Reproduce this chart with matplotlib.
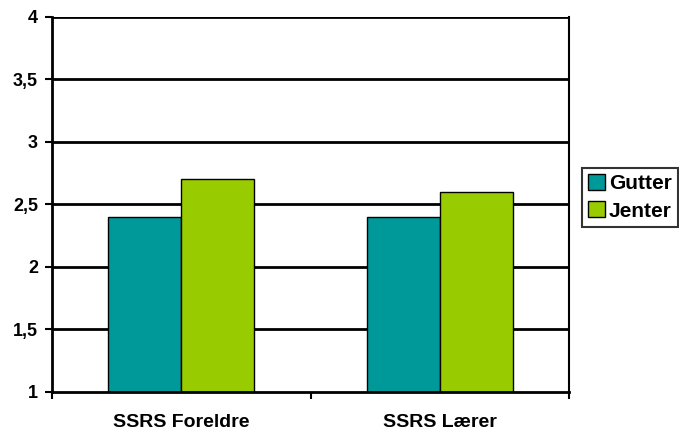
import numpy as np
import matplotlib.pyplot as plt

plt.rcParams['font.family'] = ['Liberation Sans', 'DejaVu Sans']

## the data
categories = ['SSRS Foreldre', 'SSRS Lærer']
gutter = [2.4, 2.4]
jenter = [2.7, 2.6]
yticks = [1, 1.5, 2, 2.5, 3, 3.5, 4]
ytick_labels = ['1', '1,5', '2', '2,5', '3', '3,5', '4']

fig = plt.figure(figsize=(6.79, 4.30), dpi=100)
ax = fig.add_axes([0.0766, 0.0884, 0.7614, 0.8721])

ind = np.arange(len(categories))
width = 0.283

# gridlines behind bars
for y in yticks[1:]:
    ax.axhline(y, color='black', lw=2, zorder=0)

b1 = ax.bar(ind - width / 2, gutter, width,
            color='#009999', edgecolor='black', lw=1, zorder=2)
b2 = ax.bar(ind + width / 2, jenter, width,
            color='#99CC00', edgecolor='black', lw=1, zorder=2)

ax.set_xlim(-0.5, 1.5)
ax.set_ylim(1, 4)
ax.set_yticks(yticks)
ax.set_yticklabels(ytick_labels, fontsize=13, fontweight='bold')
ax.set_xticks([-0.5, 0.5, 1.5])
ax.set_xticklabels(['', '', ''])
ax.set_xticks(ind, minor=True)
ax.set_xticklabels(categories, minor=True, fontsize=14, fontweight='bold')
ax.tick_params(axis='x', which='minor', length=0, pad=16)
ax.tick_params(axis='x', which='major', length=5, width=1.5, direction='out')
ax.tick_params(axis='y', length=5, width=1.5, direction='out', pad=5)

ax.spines['left'].set_linewidth(2)
ax.spines['bottom'].set_linewidth(2)
ax.spines['top'].set_visible(False)
ax.spines['right'].set_linewidth(1.5)

leg = fig.legend((b1[0], b2[0]), ('Gutter', 'Jenter'),
                 loc='upper left', bbox_to_anchor=(0.857, 0.61),
                 frameon=True, fancybox=False, edgecolor='black',
                 prop={'weight': 'bold', 'size': 15},
                 handlelength=0.8, handleheight=0.8, handletextpad=0.2,
                 borderpad=0.3, labelspacing=0.4, borderaxespad=0)
leg.get_frame().set_linewidth(1.5)

fig.savefig('out.png', dpi=100)
